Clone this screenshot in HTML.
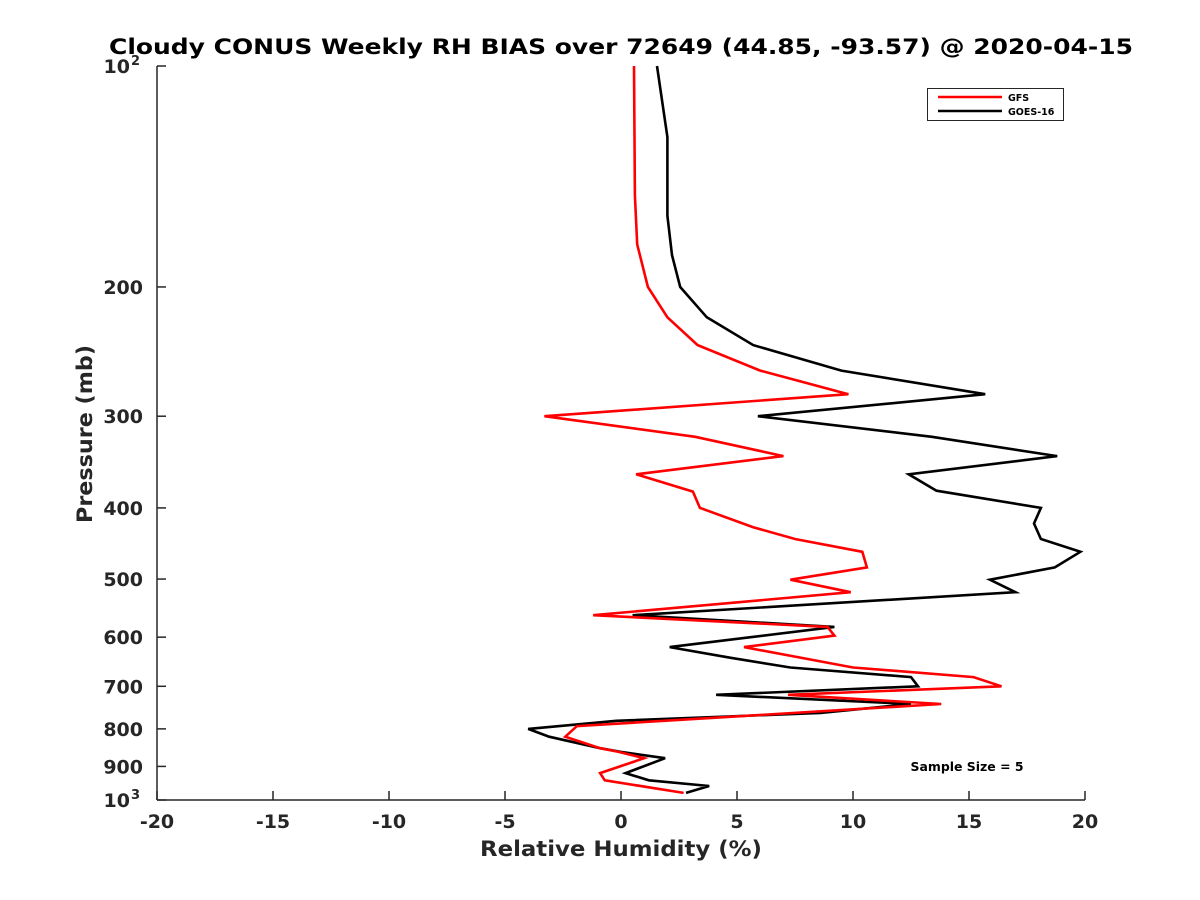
<!DOCTYPE html>
<html><head><meta charset="utf-8"><style>
html,body{margin:0;padding:0;background:#fff;}
svg{display:block;font-family:"DejaVu Sans","Liberation Sans",sans-serif;font-weight:bold;}
</style></head><body>
<svg id="chart" width="1200" height="900" viewBox="0 0 1200 900">
<rect width="1200" height="900" fill="#fff"/>
<text x="621" y="54" text-anchor="middle" font-size="21.5" fill="#000" textLength="1024" lengthAdjust="spacingAndGlyphs">Cloudy CONUS Weekly RH BIAS over 72649 (44.85, -93.57) @ 2020-04-15</text>
<g id="axes"></g>
<g id="series"></g>
<text x="621" y="856" text-anchor="middle" font-size="21.5" fill="#262626" textLength="282" lengthAdjust="spacingAndGlyphs">Relative Humidity (%)</text>
<text transform="translate(92,434) rotate(-90)" text-anchor="middle" font-size="21.5" fill="#262626" textLength="178" lengthAdjust="spacingAndGlyphs">Pressure (mb)</text>
<text x="967" y="771" text-anchor="middle" font-size="12" fill="#000" textLength="113" lengthAdjust="spacingAndGlyphs">Sample Size = 5</text>
<g>
<rect x="927.5" y="88.5" width="136" height="32" fill="#fff" stroke="#262626" stroke-width="1"/>
<line x1="938" y1="97" x2="1002" y2="97" stroke="#f00" stroke-width="2.5"/>
<text x="1008" y="101" font-size="9.5" fill="#000">GFS</text>
<line x1="938" y1="111" x2="1002" y2="111" stroke="#000" stroke-width="2.5"/>
<text x="1008" y="115" font-size="9.5" fill="#000">GOES-16</text>
</g>
</svg>
<script>
const xTicks = [-20,-15,-10,-5,0,5,10,15,20];
const yTicks = [100,200,300,400,500,600,700,800,900,1000];
const yTickLabels = ["10^2","200","300","400","500","600","700","800","900","10^3"];
const gfsPressure = [100,150,175,200,220,240,260,280,300,320,340,360,380,400,425,441,459,482,501,521,560,581,597,619,660,680,700,719,740,793,820,850,860,877,919,940,978];
const gfsValues = [0.56,0.6,0.7,1.16,2.0,3.3,6.0,9.8,-3.3,3.2,7.0,0.65,3.1,3.4,5.7,7.5,10.4,10.6,7.3,9.9,-1.2,8.9,9.2,5.3,10.0,15.2,16.4,7.2,13.8,-1.9,-2.4,-0.9,-0.1,1.0,-0.9,-0.7,2.7];
const goesPressure = [100,125,160,181,200,220,240,260,280,300,320,340,360,379,400,420,441,459,482,501,521,560,581,619,640,660,680,700,719,740,761,780,800,820,850,860,877,919,940,957,978];
const goesValues = [1.55,2.0,2.0,2.2,2.55,3.7,5.7,9.5,15.7,5.9,13.4,18.8,12.4,13.6,18.1,17.8,18.1,19.8,18.7,15.9,17.0,0.5,9.2,2.1,4.7,7.3,12.5,12.8,4.1,12.5,8.6,-0.2,-4.0,-3.1,-0.9,0.0,1.9,0.2,1.2,3.8,2.8];

const NS = "http://www.w3.org/2000/svg";
const X0 = 157, X1 = 1085, Y0 = 66, Y1 = 800;
function xScale(v){ return X0 + (v + 20) / 40 * (X1 - X0); }
function yScale(p){ return Y0 + Math.log10(p / 100) * (Y1 - Y0); }
function mk(tag, attrs, parent){
  const e = document.createElementNS(NS, tag);
  for (const k in attrs) e.setAttribute(k, attrs[k]);
  parent.appendChild(e);
  return e;
}
const axes = document.getElementById('axes');
const xAxis = mk('line', {x1:X0, y1:Y1, x2:X1, y2:Y1, stroke:'#262626', 'stroke-width':1.5}, axes);


const yAxis = mk('line', {x1:X0, y1:Y0, x2:X0, y2:Y1, stroke:'#262626', 'stroke-width':1.5}, axes);


xTicks.forEach(function(t){
  const x = xScale(t);
  const tk = mk('line', {x1:x, y1:Y1, x2:x, y2:Y1-9, stroke:'#262626', 'stroke-width':1.5}, axes);
  
  
  const lb = mk('text', {x:x, y:Y1+28, 'text-anchor':'middle', 'font-size':19, fill:'#262626'}, axes);
  lb.textContent = String(t);
  
  
});
yTicks.forEach(function(p, i){
  const y = yScale(p);
  const tk = mk('line', {x1:X0, y1:y, x2:X0+9, y2:y, stroke:'#262626', 'stroke-width':1.5}, axes);
  
  
  const lab = yTickLabels[i];
  const lb = mk('text', {x:X0-14, y:y+7, 'text-anchor':'end', 'font-size':19, fill:'#262626'}, axes);
  if (lab.indexOf('^') >= 0) {
    const parts = lab.split('^');
    lb.setAttribute('x', X0-27);
    lb.textContent = parts[0];
    const sup = mk('text', {x:X0-26, y:y-1, 'text-anchor':'start', 'font-size':13, fill:'#262626'}, axes);
    sup.textContent = parts[1];
    
    
  } else {
    lb.textContent = lab;
  }
  
  
});
const series = document.getElementById('series');
function drawLine(ps, vs, color, name){
  const pts = ps.map(function(p, i){ return xScale(vs[i]).toFixed(1) + ',' + yScale(p).toFixed(1); }).join(' ');
  const pl = mk('polyline', {points:pts, fill:'none', stroke:color, 'stroke-width':2.6, 'stroke-linejoin':'miter'}, series);
  
  
}
drawLine(goesPressure, goesValues, '#000', 'goes16-line');
drawLine(gfsPressure, gfsValues, '#f00', 'gfs-line');
</script>
</body></html>
